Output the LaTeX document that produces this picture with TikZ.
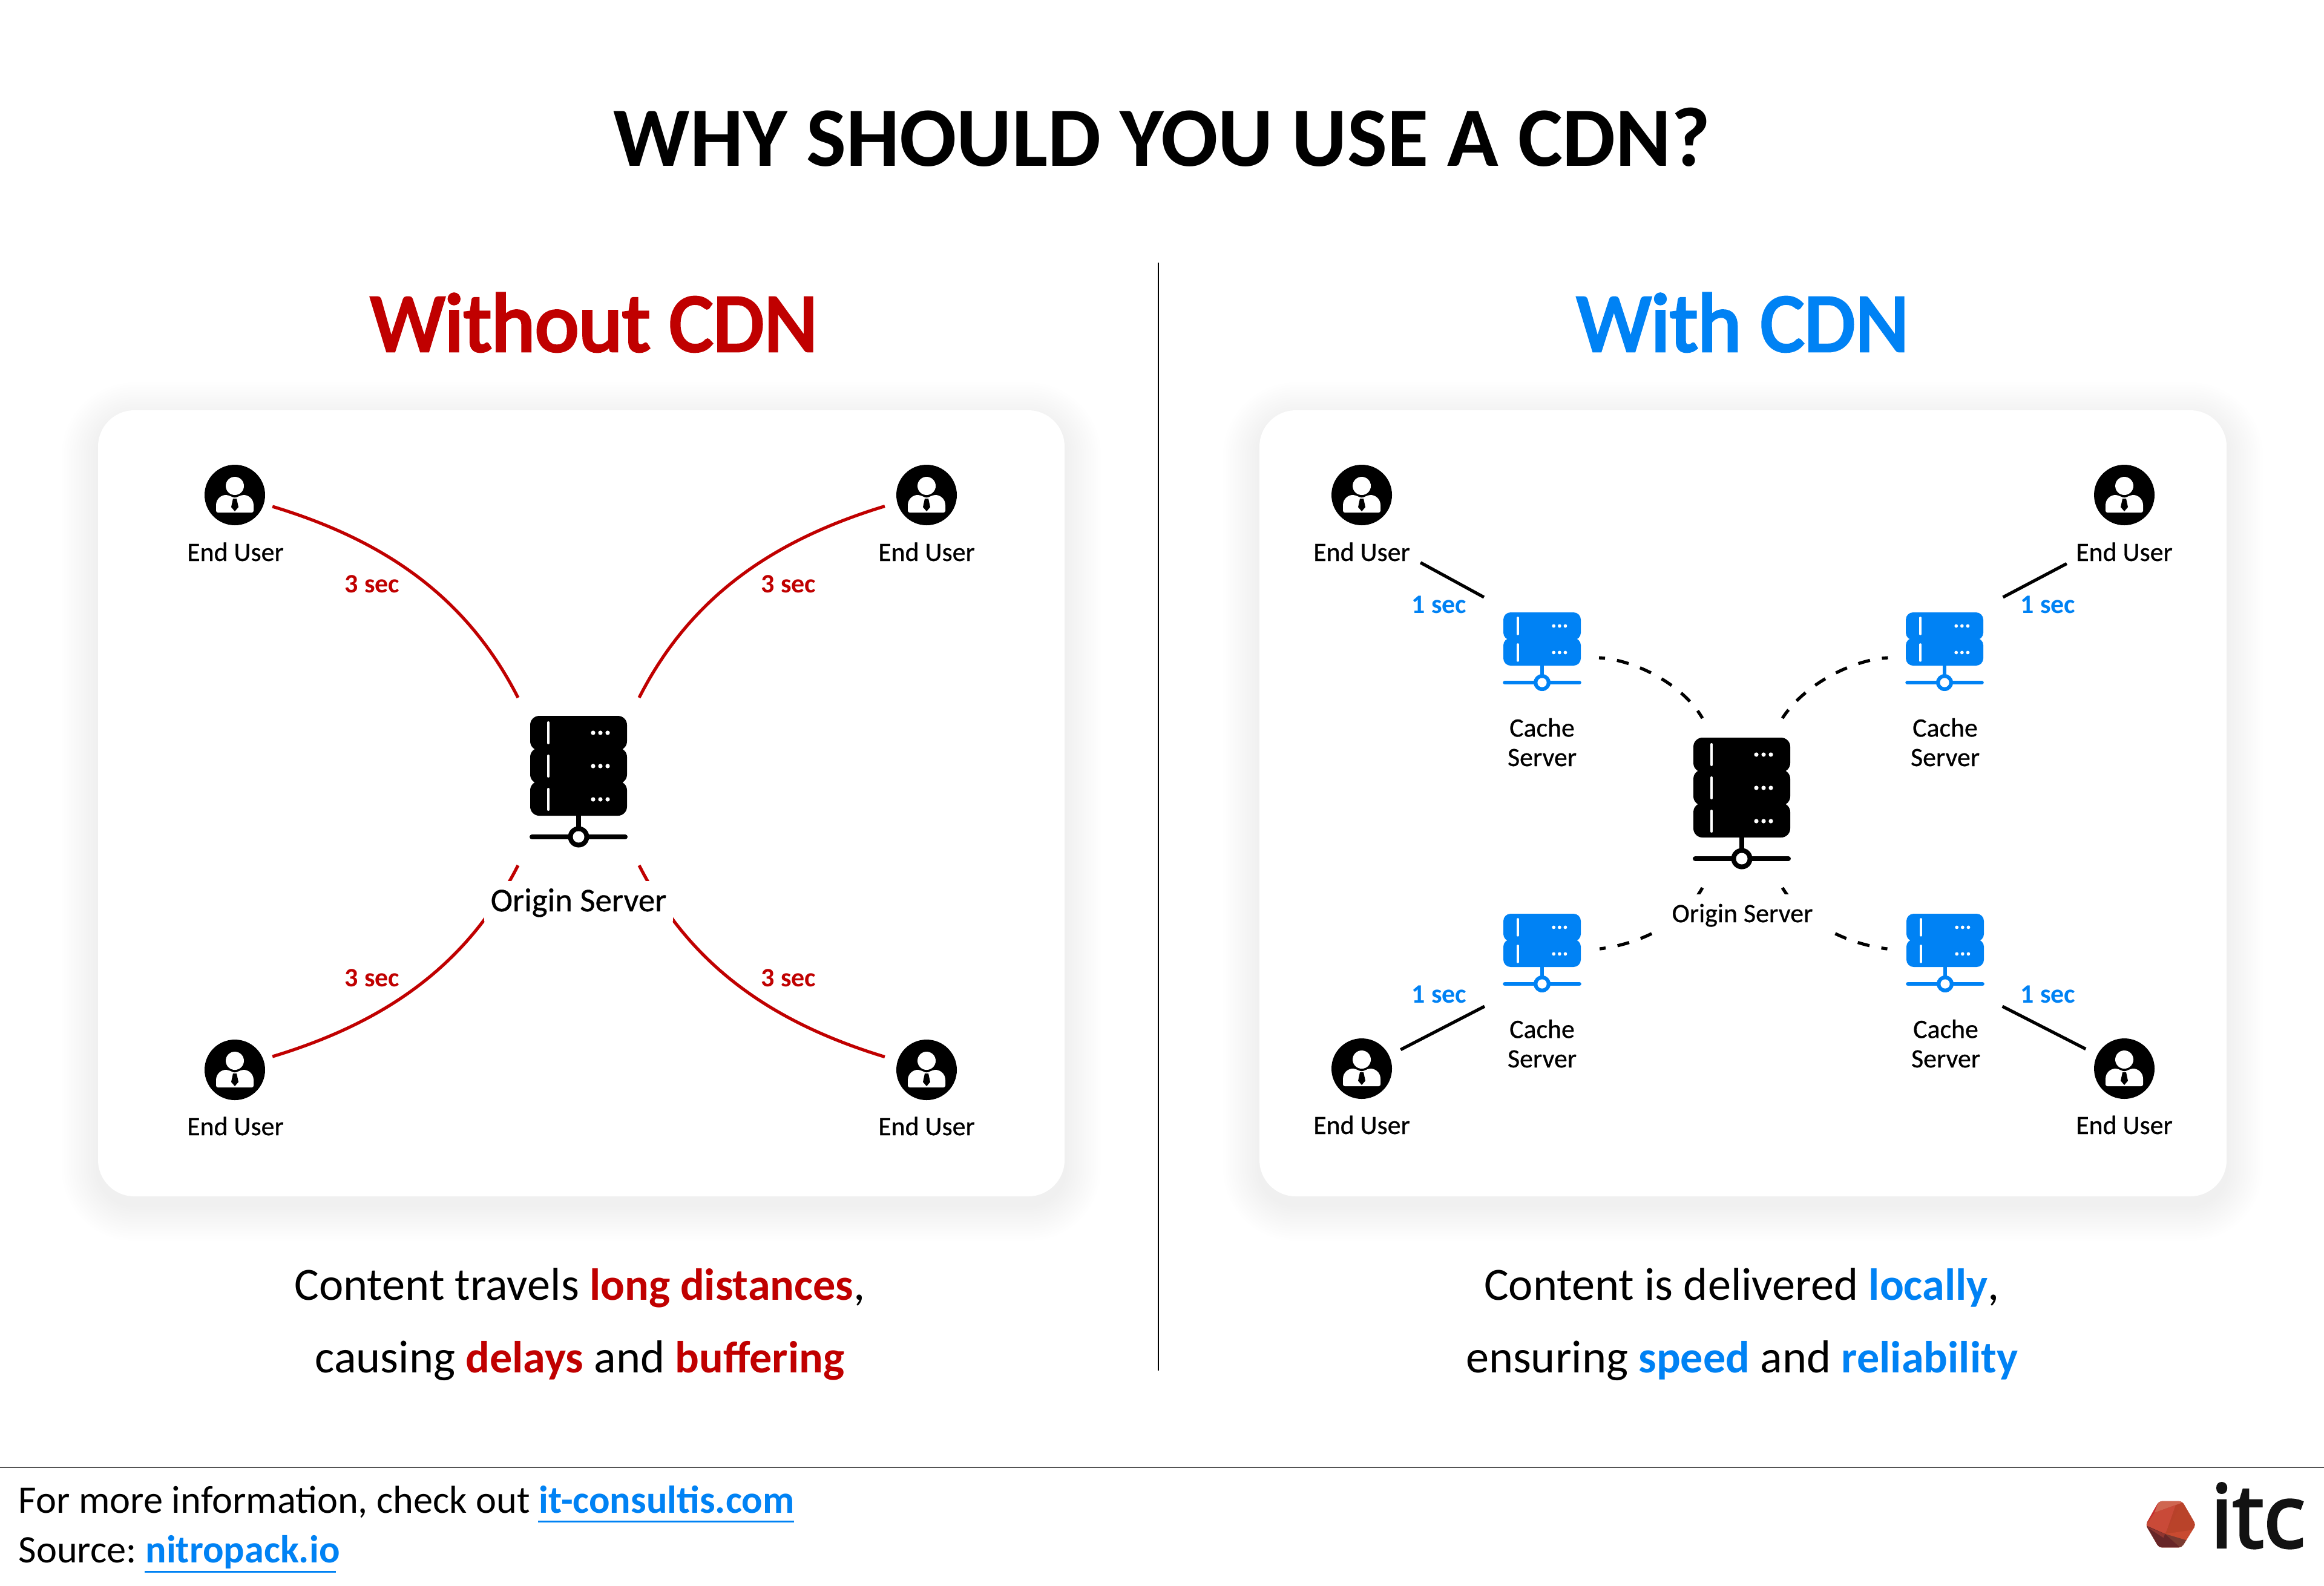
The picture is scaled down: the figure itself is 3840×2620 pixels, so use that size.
\documentclass[tikz,border=0pt]{standalone}
\usepackage{fontspec}
\setmainfont{Carlito}
\usetikzlibrary{calc}
\definecolor{cdnred}{HTML}{C00000}
\definecolor{cdnblue}{HTML}{0082F4}
\definecolor{logob}{HTML}{B8412A}
\definecolor{logoc}{HTML}{C72A2E}
\definecolor{logod}{HTML}{CF6650}
\definecolor{logoe}{HTML}{C94A38}
\definecolor{logof}{HTML}{B9432A}
\definecolor{logog}{HTML}{C84A30}
\definecolor{logoh}{HTML}{7A3A30}
\definecolor{logoi}{HTML}{672628}
\definecolor{logoj}{HTML}{8E3530}
\newcommand\ptfont[1]{\fontsize{#1pt}{#1pt}\selectfont}
\newfontface\fakemed{Carlito}[FakeBold=0.6]
\newfontface\headmed{Carlito}[FakeBold=3.5]
\newfontface\itcfont{Open Sans}[FakeBold=3]
\newcommand\srvicon[5]{%
 \begin{scope}[shift={(#1,#2)},scale=#3]
  \pgfmathsetlengthmacro\rr{#3*0.15cm}
  \pgfmathsetlengthmacro\lwA{#3*0.08cm}
  \pgfmathsetlengthmacro\lwB{#3*0.04cm}
  \foreach \t/\b in {#5}{
   \fill[#4,rounded corners=\rr] (-80,\t) rectangle (80,\b);
  }
  \foreach \t/\b in {#5}{
   \pgfmathsetmacro\tt{\t+(\t>0?2:0)}
   \draw[white,line width=\lwB,line cap=round] (-50,\tt+11) -- (-50,\tt+45);
   \fill[white] (24,\tt+28) circle (3.6) (36,\tt+28) circle (3.6) (48,\tt+28) circle (3.6);
   \xdef\lastb{\b}
  }
  \draw[#4,line width=\lwA] (0,\lastb) -- (0,\lastb+20);
  \draw[#4,line width=\lwA,line cap=round] (-77,\lastb+35) -- (77,\lastb+35);
  \fill[#4] (0,\lastb+35) circle (17.5);
  \fill[white] (0,\lastb+35) circle (9.5);
 \end{scope}}
\newcommand\usericon[2]{%
 \begin{scope}[shift={(#1,#2)}]
  \fill[black] (0,0) circle (50);
  \fill[white] (0,-15) circle (15);
  \fill[white,rounded corners=0.03cm] (-31,29) -- (-31,20) .. controls (-31,6) and (-22,0) .. (-12,0) -- (0,5) -- (12,0) .. controls (22,0) and (31,6) .. (31,20) -- (31,29) -- cycle;
  \fill[black] (-3,6) -- (3,6) -- (6,20) -- (0,27) -- (-6,20) -- cycle;
 \end{scope}}
\tikzset{
 conn/.style={line width=0.052cm},
 redconn/.style={conn,cdnred},
 dashconn/.style={conn,black,dash pattern=on 0.2cm off 0.2cm,dash phase=0.1cm},
 anchorbox/.style={rectangle,inner sep=0pt,outer sep=0pt,draw=none},
 userbox/.style={circle,inner sep=0pt,outer sep=0pt,draw=none},
 labelA/.style={anchor=base,inner sep=0pt,font=\ptfont{12.45}\fakemed},
 labelB/.style={labelA,align=center},
 secred/.style={labelA,text=cdnred,font=\ptfont{12.5}\bfseries},
 secblue/.style={labelA,text=cdnblue,font=\ptfont{12.5}\bfseries},
 bodytext/.style={anchor=base,inner sep=0pt,font=\ptfont{21.7}},
 foot/.style={anchor=base west,inner sep=0pt,font=\ptfont{18.3}},
 linkrule/.style={cdnblue,line width=0.03cm},
 headtext/.style={anchor=base,inner sep=0pt,font=\ptfont{39}\headmed},
}
\newcommand\hibold[2]{{\fontsize{21.1pt}{21.1pt}\selectfont\bfseries\color{#1}#2}}
\begin{document}
\begin{tikzpicture}[x=0.01cm,y=-0.01cm]
\useasboundingbox (0,0) rectangle (3840,2620);
\fill[white] (0,0) rectangle (3840,2620);
% cards with soft shadow
\foreach \xa/\xb in {162/1759,2081/3679}{
 \foreach \g in {60,56,52,48,44,40,36,32,28,24,20,16,12,8,4}{
  \pgfmathsetlengthmacro\rad{(60+\g)*0.01cm}
  \fill[black,opacity=0.004,rounded corners=\rad] (\xa-\g,678-\g+14) rectangle (\xb+\g,1977+\g+14);
 }
 \fill[white,rounded corners=0.6cm] (\xa,678) rectangle (\xb,1977);
}
% title
\node[anchor=base,inner sep=0pt,font=\ptfont{39.7}\bfseries] (title) at (1920,274) {WHY SHOULD YOU USE A CDN?};
\node[headtext,text=cdnred] (hleft) at (982,580) {Without CDN};
\node[headtext,text=cdnblue] (hright) at (2880,580) {With CDN};
\draw[black,line width=0.025cm] (1914,434) coordinate (divtop) -- (1914,2265) coordinate (divbot);
% LEFT
\node[anchorbox,minimum width=2cm,minimum height=2.77cm] (oL) at (956,1291.5) {};
\node[userbox,minimum size=1.3cm] (uL1) at (388,818) {};
\node[userbox,minimum size=1.43cm] (uL2) at (1531,818) {};
\node[userbox,minimum size=1.3cm] (uL3) at (388,1765) {};
\node[userbox,minimum size=1.43cm] (uL4) at (1531,1765) {};
\draw[redconn] (uL1.-17) .. controls (632,892) and (770,984) .. (oL.north west);
\draw[redconn] (uL2.-165) .. controls (1280,892) and (1142,984) .. (oL.north east);
\draw[redconn] (uL3.17) .. controls (632,1691) and (770,1599) .. (oL.south west);
\draw[redconn] (uL4.165) .. controls (1280,1691) and (1142,1599) .. (oL.south east);
\srvicon{956}{1183}{1}{black}{0/57,53/112,108/165}
\node[anchor=base,fill=white,inner sep=0pt,minimum width=3.11cm,text height=0.5cm,text depth=0.17cm,font=\ptfont{15.6}\fakemed] (oLlabel) at (956,1506) {Origin Server};
\usericon{388}{818}\usericon{1531}{818}\usericon{388}{1768}\usericon{1531}{1768}
\node[labelA] (tL1) at (389,927) {End User};
\node[labelA] (tL2) at (1531,927) {End User};
\node[labelA] (tL3) at (389,1876) {End User};
\node[labelA] (tL4) at (1531,1876) {End User};
\node[secred] (sL1) at (615,979) {3 sec};
\node[secred] (sL2) at (1303,979) {3 sec};
\node[secred] (sL3) at (615,1630) {3 sec};
\node[secred] (sL4) at (1303,1630) {3 sec};
% RIGHT
\node[anchorbox,minimum width=1.32cm,minimum height=2.8cm] (oR) at (2879,1327) {};
\node[anchorbox,minimum width=1.9cm,minimum height=2cm] (c1) at (2547,1087) {};
\node[anchorbox,minimum width=1.9cm,minimum height=2cm] (c2) at (3214.5,1087) {};
\node[anchorbox,minimum width=1.9cm,minimum height=1.9cm] (c3) at (2548,1568) {};
\node[anchorbox,minimum width=1.9cm,minimum height=1.9cm] (c4) at (3213.5,1568) {};
\node[userbox,minimum size=2.96cm] (uR1) at (2250,818) {};
\node[userbox,minimum size=2.96cm] (uR2) at (3510,818) {};
\node[userbox,minimum size=1.43cm] (uR3) at (2250,1766) {};
\node[userbox,minimum size=1.43cm] (uR4) at (3510,1766) {};
\draw[conn] (uR1.-49.6) -- (c1.north west);
\draw[conn] (uR2.-130.4) -- (c2.north east);
\draw[conn] (uR3.26.6) -- (c3.south west);
\draw[conn] (uR4.153.4) -- (c4.south east);
\draw[dashconn] (c1.east) .. controls (2700,1090) and (2780,1130) .. (oR.north west);
\draw[dashconn] (c2.west) .. controls (3062,1090) and (2982,1130) .. (oR.north east);
\draw[dashconn] (c3.east) .. controls (2695,1562) and (2775,1535) .. (oR.south west);
\draw[dashconn] (c4.west) .. controls (3067,1562) and (2987,1535) .. (oR.south east);
\srvicon{2878}{1219}{1}{black}{0/57,53/112,108/165}
\node[anchor=base,fill=white,inner sep=0pt,minimum width=2.97cm,text height=0.46cm,text depth=0.18cm,font=\ptfont{12.5}\fakemed] (oRlabel) at (2879,1524) {Origin Server};
\srvicon{2548}{1012}{0.8}{cdnblue}{0/57,53/110}
\srvicon{3213}{1012}{0.8}{cdnblue}{0/57,53/110}
\srvicon{2548}{1510}{0.8}{cdnblue}{0/57,53/110}
\srvicon{3214}{1510}{0.8}{cdnblue}{0/57,53/110}
\node[labelB] (tc1) at (2548,1266) {Cache\\[1.4pt]Server};
\node[labelB] (tc2) at (3214,1266) {Cache\\[1.4pt]Server};
\node[labelB] (tc3) at (2548,1764) {Cache\\[1.4pt]Server};
\node[labelB] (tc4) at (3215,1764) {Cache\\[1.4pt]Server};
\usericon{2250}{818}\usericon{3510}{818}\usericon{2250}{1766}\usericon{3510}{1766}
\node[labelA] (tR1) at (2250,927) {End User};
\node[labelA] (tR2) at (3510,927) {End User};
\node[labelA] (tR3) at (2250,1874) {End User};
\node[labelA] (tR4) at (3510,1874) {End User};
\node[secblue] (sR1) at (2378,1013) {1 sec};
\node[secblue] (sR2) at (3384,1013) {1 sec};
\node[secblue] (sR3) at (2378,1657) {1 sec};
\node[secblue] (sR4) at (3384,1657) {1 sec};
% captions
\node[bodytext] (capL1) at (958,2148) {Content travels \hibold{cdnred}{long distances},};
\node[bodytext] (capL2) at (958,2268) {causing \hibold{cdnred}{delays} and \hibold{cdnred}{buffering}};
\node[bodytext] (capR1) at (2878,2148) {Content is delivered \hibold{cdnblue}{locally},};
\node[bodytext] (capR2) at (2878,2268) {ensuring \hibold{cdnblue}{speed} and \hibold{cdnblue}{reliability}};
% footer
\draw[black!67,line width=0.02cm] (0,2425) coordinate (fl) -- (3840,2425) coordinate (fr);
\node[foot] (f1) at (30,2500) {For more information, check out {\bfseries\color{cdnblue}it-consultis.com}};
\node[foot] (f2) at (30,2582) {Source:\hspace{-1.4pt} {\bfseries\color{cdnblue}nitropack.io}};
\draw[linkrule] (889,2514) coordinate (l1a) -- (1312,2514) coordinate (l1b);
\draw[linkrule] (239,2597) coordinate (l2a) -- (555,2597) coordinate (l2b);
% logo
\begin{scope}[shift={(3480,2400)},x=0.00333cm,y=-0.00333cm]
 \begin{scope}
  \clip[rounded corners=0.05cm] (262,243) -- (378,243) -- (445,360) -- (375,473) -- (262,473) -- (196,360) -- cycle;
  \fill[logob] (190,240) rectangle (450,480);
  \fill[logoc] (190,240) -- (378,240) -- (378,250) -- (240,300) -- (190,365) -- cycle;
  \fill[logod] (262,240) -- (378,240) -- (378,250) -- (240,300) -- cycle;
  \fill[logoe] (198,365) -- (240,300) -- (345,262) -- (295,405) -- cycle;
  \fill[logof] (292,405) -- (378,250) -- (450,360) -- (432,385) -- cycle;
  \fill[logog] (292,405) -- (432,385) -- (403,438) -- cycle;
  \fill[logoh] (292,405) -- (403,438) -- (370,475) -- cycle;
  \fill[logoi] (190,360) -- (292,405) -- (370,475) -- (255,480) -- cycle;
  \fill[logoj] (198,368) -- (292,405) -- (285,425) -- cycle;
 \end{scope}
\end{scope}
\node[anchor=base west,inner sep=0pt,font=\itcfont\ptfont{41},text=black!93] (logotext) at (3652,2557) {itc};
\end{tikzpicture}
\end{document}
